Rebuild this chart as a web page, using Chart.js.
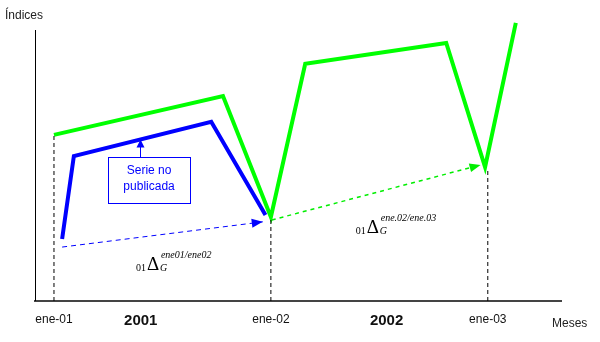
<!DOCTYPE html>
<html>
<head>
<meta charset="utf-8">
<script src="https://cdn.jsdelivr.net/npm/chart.js@4"></script>
<style>
  body { margin: 0; background: #fff; }
  canvas { display: block; }
</style>
</head>
<body>
<canvas id="indexChart" width="600" height="342"></canvas>
<script>
// Datos (meses desde ene-01, indice en escala 0-100)
const greenMonths = [0, 9.35, 12, 13.9, 21.7, 23.85, 25.55];
const greenIndex = [61.3, 75.6, 31, 87.5, 95.2, 49.4, 102.6];
const blueMonths = [0.45, 1.1, 8.7, 11.7];
const blueIndex = [22.9, 53.5, 66.1, 31.7];
const blueGapMonths = [0.45, 11.55];
const blueGapIndex = [19.9, 29.2];
const greenGapMonths = [12.05, 23.6];
const greenGapIndex = [29.9, 50.2];
const guideMonths = [0, 12, 24];
const guideTop = [61.3, 31, 49];
const tickMonths = [0, 4.8, 12, 18.4, 24];
const tickLabels = ['ene-01', '2001', 'ene-02', '2002', 'ene-03'];

const toPoints = (xs, ys) => xs.map((x, i) => ({ x: x, y: ys[i] }));

const guideSets = guideMonths.map((m, i) => ({
  data: [{ x: m, y: 0 }, { x: m, y: guideTop[i] }],
  borderColor: '#000',
  borderWidth: 1,
  borderDash: [4, 3],
  pointRadius: 0
}));

// Flechas, etiquetas y ejes
const extras = {
  id: 'extras',
  afterDatasetsDraw(chart) {
    const c = chart.ctx;
    const xs = chart.scales.x, ys = chart.scales.y;
    const area = chart.chartArea;

    // eje Y
    c.save();
    c.strokeStyle = '#000';
    c.lineWidth = 1;
    c.beginPath();
    c.moveTo(area.left + 0.5, area.top);
    c.lineTo(area.left + 0.5, area.bottom);
    c.stroke();

    // puntas de flecha
    function head(x1, y1, x2, y2, len, wid, col) {
      const a = Math.atan2(y2 - y1, x2 - x1);
      c.fillStyle = col;
      c.beginPath();
      c.moveTo(x2, y2);
      c.lineTo(x2 - len * Math.cos(a) + wid / 2 * Math.sin(a), y2 - len * Math.sin(a) - wid / 2 * Math.cos(a));
      c.lineTo(x2 - len * Math.cos(a) - wid / 2 * Math.sin(a), y2 - len * Math.sin(a) + wid / 2 * Math.cos(a));
      c.closePath();
      c.fill();
    }
    chart.data.datasets.forEach((ds, i) => {
      if (!ds.arrow) return;
      const pts = chart.getDatasetMeta(i).data;
      const p1 = pts[pts.length - 2], p2 = pts[pts.length - 1];
      head(p1.x, p1.y, p2.x, p2.y, 11, 9, ds.borderColor);
    });

    // recuadro "Serie no publicada"
    const bx1 = xs.getPixelForValue(3.0), bx2 = xs.getPixelForValue(7.52);
    const by1 = ys.getPixelForValue(53.1), by2 = ys.getPixelForValue(36.2);
    c.strokeStyle = '#0000ff';
    c.lineWidth = 1;
    c.strokeRect(Math.round(bx1) + 0.5, Math.round(by1) + 0.5, Math.round(bx2 - bx1), Math.round(by2 - by1));
    c.fillStyle = '#0000ff';
    c.font = '12px "Liberation Sans", Arial, sans-serif';
    c.textAlign = 'center';
    c.textBaseline = 'middle';
    c.fillText('Serie no', (bx1 + bx2) / 2, by1 + 14);
    c.fillText('publicada', (bx1 + bx2) / 2, by1 + 30);
    const ax = Math.round(xs.getPixelForValue(4.76)) + 0.5;
    const ay = ys.getPixelForValue(59.6);
    c.beginPath();
    c.moveTo(ax, by1);
    c.lineTo(ax, ay + 6);
    c.stroke();
    head(ax, by1, ax, ay, 8, 8, '#0000ff');

    // formulas
    function formula(m, v, sup) {
      const px = xs.getPixelForValue(m), py = ys.getPixelForValue(v);
      c.fillStyle = '#000';
      c.textBaseline = 'alphabetic';
      c.textAlign = 'right';
      c.font = '10px "Liberation Serif", serif';
      c.fillText('01', px - 1, py + 1);
      c.textAlign = 'left';
      c.font = '19px "Liberation Serif", serif';
      c.fillText('\u0394', px, py);
      c.font = 'italic 10px "Liberation Serif", serif';
      c.fillText('G', px + 13, py + 1);
      c.fillText(sup, px + 14, py - 12);
    }
    formula(5.14, 11.4, 'ene01/ene02');
    formula(17.3, 25.1, 'ene.02/ene.03');

    // titulos de ejes
    c.fillStyle = '#222';
    c.font = '12px "Liberation Sans", Arial, sans-serif';
    c.textAlign = 'left';
    c.textBaseline = 'middle';
    c.fillText('\u00cdndices', 5, 16);
    c.fillText('Meses', 552, 324);
    c.restore();
  }
};

new Chart(document.getElementById('indexChart'), {
  type: 'line',
  data: {
    datasets: [
      ...guideSets,
      {
        data: toPoints(blueGapMonths, blueGapIndex),
        borderColor: '#0000ff',
        borderWidth: 1,
        borderDash: [5, 4],
        pointRadius: 0,
        arrow: true
      },
      {
        data: toPoints(greenGapMonths, greenGapIndex),
        borderColor: '#00ee00',
        borderWidth: 1.5,
        borderDash: [4, 4],
        pointRadius: 0,
        arrow: true
      },
      {
        data: toPoints(blueMonths, blueIndex),
        borderColor: '#0000ff',
        borderWidth: 4,
        pointRadius: 0
      },
      {
        data: toPoints(greenMonths, greenIndex),
        borderColor: '#00ff00',
        borderWidth: 4,
        pointRadius: 0
      }
    ]
  },
  options: {
    responsive: false,
    animation: false,
    clip: false,
    layout: { padding: { left: 35, right: 39, top: 30, bottom: 9 } },
    plugins: { legend: { display: false }, tooltip: { enabled: false } },
    scales: {
      x: {
        type: 'linear',
        min: -1.05,
        max: 28.05,
        grid: { display: false },
        border: { display: true, color: '#444', width: 2 },
        afterBuildTicks: (axis) => { axis.ticks = tickMonths.map(v => ({ value: v })); },
        ticks: {
          autoSkip: false,
          maxRotation: 0,
          padding: 3,
          color: '#111',
          callback: (v) => tickLabels[tickMonths.indexOf(v)],
          font: (ctx) => {
            const lbl = tickLabels[ctx.index] || '';
            return lbl.startsWith('ene')
              ? { family: '"Liberation Sans", Arial', size: 12 }
              : { family: '"Liberation Sans", Arial', size: 15, weight: 'bold' };
          }
        }
      },
      y: {
        display: false,
        min: 0,
        max: 100
      }
    }
  },
  plugins: [extras]
});
</script>
</body>
</html>
